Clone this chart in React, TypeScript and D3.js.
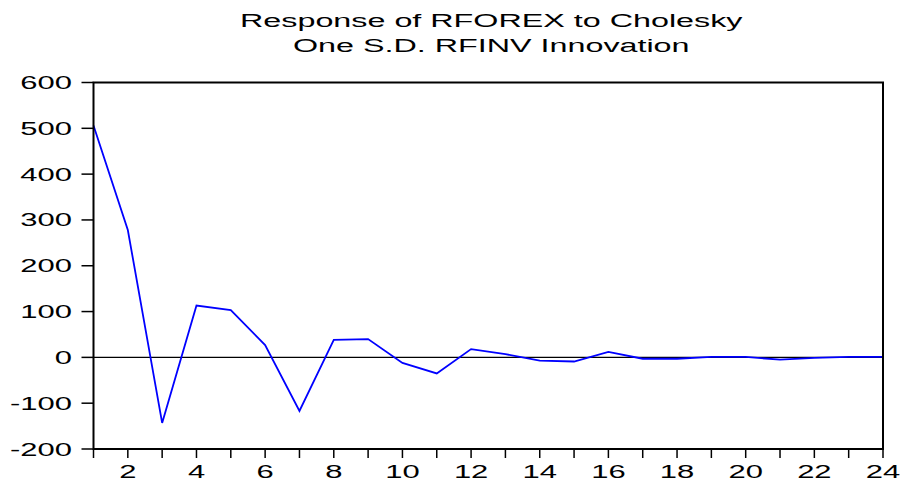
import React from "react";
import * as d3 from "d3";

const periods = [1,2,3,4,5,6,7,8,9,10,11,12,13,14,15,16,17,18,19,20,21,22,23,24];
const response = [506,278,-143,113,103,27,-117,38,40,-12,-35,18,7,-7,-9,12,-3,-3,1,1,-5,-1,1,1];
const yTicks = [-200,-100,0,100,200,300,400,500,600];
const xLabelTicks = [2,4,6,8,10,12,14,16,18,20,22,24];
const titleLines = ["Response of RFOREX to Cholesky", "One S.D. RFINV Innovation"];

const W = 904, H = 484;
const left = 93.5, right = 883, top = 82.5, bottom = 449;
const SXT = 1.7;
const SX = 1.72;
const FONT = "'Liberation Sans', Arial, sans-serif";

export default function App() {
  const x = d3.scaleLinear().domain([1, 24]).range([left, right]);
  const y = d3.scaleLinear().domain([-200, 600]).range([bottom, top]);
  const line = d3.line<number>().x((_, i) => x(periods[i])).y((d) => y(d));

  return (
    <svg width={W} height={H} style={{ position: "absolute", left: 0, top: 0, background: "#fff" }}>
      {titleLines.map((t, i) => (
        <text key={i} transform={`translate(${(left + right) / 2 + 3},${27 + i * 25}) scale(${SXT},1)`}
          textAnchor="middle" fontFamily={FONT} fontSize={19} fill="#000">{t}</text>
      ))}
      <line x1={left} x2={right} y1={y(0)} y2={y(0)} stroke="#000" strokeWidth={1.2} />
      <path d={line(response) || ""} fill="none" stroke="#0000FF" strokeWidth={1.8} strokeLinejoin="miter" />
      <rect x={left} y={top} width={right - left} height={bottom - top} fill="none" stroke="#000" strokeWidth={2} />
      {yTicks.map((v) => (
        <g key={v}>
          <line x1={left - 12} x2={left} y1={y(v)} y2={y(v)} stroke="#000" strokeWidth={1.5} />
          <text transform={`translate(72,${y(v) + 6.5}) scale(${SX},1)`} textAnchor="end"
            fontFamily={FONT} fontSize={18} fill="#000">{v}</text>
        </g>
      ))}
      {periods.map((p) => (
        <line key={p} x1={x(p)} x2={x(p)} y1={bottom} y2={bottom + 9} stroke="#000" strokeWidth={1.5} />
      ))}
      {xLabelTicks.map((p) => (
        <text key={p} transform={`translate(${x(p)},${478}) scale(${SX},1)`} textAnchor="middle"
          fontFamily={FONT} fontSize={18} fill="#000">{p}</text>
      ))}
    </svg>
  );
}
